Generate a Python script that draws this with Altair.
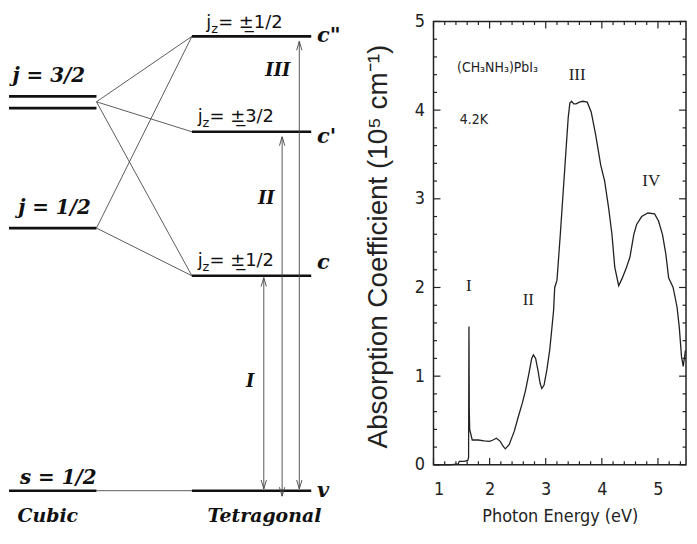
import altair as alt
import pandas as pd

# ---------------- Left: energy-level diagram (arbitrary energy units) ----------------
cubic_names = ["j = 3/2", "j = 3/2", "j = 1/2", "s = 1/2"]
cubic_E = [8.68, 8.42, 5.78, 0.0]

tetra_names = ['c"', "c'", "c", "v"]
tetra_E = [10.0, 7.90, 4.73, 0.0]

# connections cubic -> tetragonal (from energy, to energy)
conn_from = [8.56, 8.56, 8.56, 5.78, 5.78, 0.0]
conn_to = [10.0, 7.90, 4.73, 10.0, 4.73, 0.0]

# transition arrows
arrow_names = ["I", "II", "III"]
arrow_x = [2.753, 2.945, 3.125]
arrow_bottom = [0.04, -0.12, 0.04]
arrow_top = [4.69, 7.79, 9.89]

# labels
cubic_lab = ["j = 3/2", "j = 1/2", "s = 1/2"]
cubic_lab_x = [0.50, 0.56, 0.60]
cubic_lab_E = [8.99, 6.08, 0.14]

tetra_lab_x = [3.31, 3.31, 3.31, 3.31]
tetra_lab_E = [10.0, 7.79, 5.01, 0.0]

roman_left = ["III", "II", "I"]
roman_left_x = [2.90, 2.78, 2.61]
roman_left_E = [9.23, 6.43, 2.39]

jz_text = ["= \u00b1\u03321/2", "= \u00b1\u03323/2", "= \u00b1\u03321/2"]
jz_x = [2.15, 2.06, 2.06]
jz_E = [10.18, 8.12, 4.95]

bottom_lab = ["Cubic", "Tetragonal"]
bottom_x = [0.49, 2.76]
bottom_E = [-0.70, -0.70]

SERIF = "DejaVu Serif"
SANS = "Liberation Sans"

LW, LH = 340, 518
xs_left = alt.Scale(domain=[8 / 96, 348 / 96], nice=False, zero=False)
ys_left = alt.Scale(domain=[-0.766, 10.569], nice=False, zero=False)

def X(f):
    return alt.X(f, type="quantitative", scale=xs_left, axis=None)

def Y(f):
    return alt.Y(f, type="quantitative", scale=ys_left, axis=None)

cub_df = pd.DataFrame({"E": cubic_E, "x0": 0.0, "x1": 1.0})
tet_df = pd.DataFrame({"E": tetra_E, "x0": 2.0, "x1": 3.25})
conn_df = pd.DataFrame({"e0": conn_from, "e1": conn_to, "x0": 1.0, "x1": 2.0})
arr_df = pd.DataFrame({"x": arrow_x, "b": arrow_bottom, "t": arrow_top})

levels_c = alt.Chart(cub_df).mark_rule(color="#111", strokeWidth=2.6, clip=True).encode(
    x=X("x0"), x2="x1", y=Y("E"))
levels_t = alt.Chart(tet_df).mark_rule(color="#111", strokeWidth=2.6).encode(
    x=X("x0"), x2="x1", y=Y("E"))
conns = alt.Chart(conn_df).mark_rule(color="#333", strokeWidth=0.8).encode(
    x=X("x0"), x2="x1", y=Y("e0"), y2="e1")
shafts = alt.Chart(arr_df).mark_rule(color="#444", strokeWidth=0.9).encode(
    x=X("x"), y=Y("b"), y2="t")
head_up = alt.Chart(arr_df).mark_point(
    shape="M-0.3,1L0,0L0.3,1", filled=False, color="#444", strokeWidth=0.9, size=320, opacity=1
).encode(x=X("x"), y=Y("t"))
head_dn = alt.Chart(arr_df).mark_point(
    shape="M-0.3,-1L0,0L0.3,-1", filled=False, color="#444", strokeWidth=0.9, size=320, opacity=1
).encode(x=X("x"), y=Y("b"))

cl_df = pd.DataFrame({"t": cubic_lab, "x": cubic_lab_x, "E": cubic_lab_E})
cub_text = alt.Chart(cl_df).mark_text(
    font=SERIF, fontStyle="italic", fontWeight="bold", fontSize=20, align="center", baseline="alphabetic", color="#111"
).encode(x=X("x"), y=Y("E"), text="t:N")

tl_df = pd.DataFrame({"t": tetra_names, "x": tetra_lab_x, "E": tetra_lab_E})
tet_text = alt.Chart(tl_df).mark_text(
    font=SERIF, fontStyle="italic", fontWeight="bold", fontSize=21, align="left", baseline="middle", color="#111"
).encode(x=X("x"), y=Y("E"), text="t:N")

rl_df = pd.DataFrame({"t": roman_left, "x": roman_left_x, "E": roman_left_E})
rom_text = alt.Chart(rl_df).mark_text(
    font=SERIF, fontStyle="italic", fontWeight="bold", fontSize=18, align="center", baseline="middle", color="#111"
).encode(x=X("x"), y=Y("E"), text="t:N")

JZF = "DejaVu Sans"
jz_df = pd.DataFrame({"t": jz_text, "x": jz_x, "E": jz_E, "j": "j", "z": "z"})
jz_j = alt.Chart(jz_df).mark_text(
    font=JZF, fontSize=18, align="left", baseline="alphabetic", color="#111"
).encode(x=X("x"), y=Y("E"), text="j:N")
jz_z = alt.Chart(jz_df).mark_text(
    font=JZF, fontSize=13, align="left", baseline="alphabetic", color="#111", dx=5, dy=5
).encode(x=X("x"), y=Y("E"), text="z:N")
jz_rest = alt.Chart(jz_df).mark_text(
    font=JZF, fontSize=18, align="left", baseline="alphabetic", color="#111", dx=12
).encode(x=X("x"), y=Y("E"), text="t:N")

bl_df = pd.DataFrame({"t": bottom_lab, "x": bottom_x, "E": bottom_E})
bot_text = alt.Chart(bl_df).mark_text(
    font=SERIF, fontStyle="italic", fontWeight="bold", fontSize=19, align="center", baseline="alphabetic", color="#111"
).encode(x=X("x"), y=Y("E"), text="t:N")

left = alt.layer(
    levels_c, levels_t, conns, shafts, head_up, head_dn,
    cub_text, tet_text, rom_text, jz_j, jz_z, jz_rest, bot_text
).properties(width=LW, height=LH)

# ---------------- Right: absorption spectrum ----------------
energy = [1.00, 1.30, 1.44, 1.46, 1.55, 1.61, 1.625, 1.632, 1.638, 1.645, 1.66, 1.69, 1.80, 1.90,
          2.00, 2.06, 2.12, 2.19, 2.24, 2.28, 2.35, 2.44, 2.51, 2.58, 2.64, 2.70, 2.75, 2.78,
          2.82, 2.86, 2.90, 2.93, 2.97, 3.02, 3.07, 3.10, 3.14, 3.16, 3.20, 3.26, 3.34, 3.40,
          3.43, 3.46, 3.50, 3.54, 3.60, 3.66, 3.74, 3.81, 3.89, 3.98, 4.05, 4.12, 4.18, 4.23,
          4.30, 4.36, 4.43, 4.50, 4.57, 4.62, 4.71, 4.82, 4.94, 5.01, 5.08, 5.14, 5.19, 5.27,
          5.34, 5.38, 5.42, 5.45, 5.49]
alpha = [0.00, 0.00, 0.01, 0.04, 0.04, 0.05, 0.08, 1.56, 0.60, 0.40, 0.36, 0.28, 0.28, 0.27,
         0.265, 0.28, 0.30, 0.265, 0.21, 0.18, 0.23, 0.38, 0.54, 0.69, 0.84, 1.03, 1.20, 1.24,
         1.20, 1.07, 0.92, 0.86, 0.90, 1.07, 1.29, 1.48, 1.74, 2.00, 2.08, 2.60, 3.35, 3.91,
         4.08, 4.10, 4.07, 4.07, 4.09, 4.10, 4.09, 3.98, 3.72, 3.38, 3.20, 2.90, 2.60, 2.23,
         2.02, 2.10, 2.21, 2.34, 2.60, 2.71, 2.80, 2.84, 2.83, 2.75, 2.60, 2.38, 2.11, 2.00,
         1.78, 1.55, 1.22, 1.11, 1.29]

peak_labels = ["I", "II", "III", "IV"]
peak_x = [1.63, 2.69, 3.56, 4.88]
peak_y = [2.02, 1.86, 4.40, 3.20]

note_text = ["(CH\u2083NH\u2083)PbI\u2083", "4.2K"]
note_x = [1.42, 1.47]
note_y = [4.48, 3.89]

X_MIN, X_MAX = 1.0, 5.5
Y_MIN, Y_MAX = 0.0, 5.0
x_major = [1, 2, 3, 4, 5]
y_major = [0, 1, 2, 3, 4, 5]
x_minor = [round(1 + 0.2 * i, 2) for i in range(1, 23) if abs((1 + 0.2 * i) - round(1 + 0.2 * i)) > 1e-6]
y_minor = [round(0.2 * i, 2) for i in range(1, 25) if abs(0.2 * i - round(0.2 * i)) > 1e-6]

NARROW = "Liberation Sans Narrow, DejaVu Sans Condensed, Roboto Condensed, Liberation Sans"
RW, RH = 254, 457
Y_TOP = 5.1232          # view extends a little above the frame
TOP_PX = RH * (1 - Y_MAX / Y_TOP)
xs = alt.Scale(domain=[X_MIN, X_MAX], nice=False, zero=False)
ys = alt.Scale(domain=[Y_MIN, Y_TOP], nice=False, zero=False)

x_axis = alt.Axis(values=x_major, format="d", ticks=False, domain=False, grid=False,
                  labelFont=NARROW, labelFontSize=18, labelPadding=16, labelColor="#222",
                  title="Photon Energy (eV)", titleFont=NARROW, titleFontSize=18,
                  titleFontWeight="normal", titleColor="#222", titlePadding=9)
y_axis = alt.Axis(values=y_major, format="d", ticks=False, domain=False, grid=False,
                  labelFont=NARROW, labelFontSize=18, labelPadding=9, labelColor="#222",
                  title="Absorption Coefficient (10\u2075 cm\u207b\u00b9)", titleFont=SANS,
                  titleFontSize=28, titleFontWeight="normal", titleColor="#222", titlePadding=22,
                  titleY=237)

spec_df = pd.DataFrame({"energy": energy, "alpha": alpha})
curve = alt.Chart(spec_df).mark_line(color="#222", strokeWidth=1.3).encode(
    x=alt.X("energy:Q", scale=xs, axis=x_axis),
    y=alt.Y("alpha:Q", scale=ys, axis=y_axis),
)

frame_df = pd.DataFrame({"energy": [X_MIN], "energy2": [X_MAX], "alpha": [Y_MIN], "alpha2": [Y_MAX]})
frame = alt.Chart(frame_df).mark_rect(fillOpacity=0, stroke="#222", strokeWidth=1.5).encode(
    x=alt.X("energy:Q", scale=xs), x2="energy2", y=alt.Y("alpha:Q", scale=ys), y2="alpha2")

tick_layers = []
for vals, ln in ((x_major, 7), (x_minor, 3.5)):
    d = pd.DataFrame({"energy": vals})
    tick_layers.append(alt.Chart(d).mark_rule(color="#222", strokeWidth=1.2).encode(
        x=alt.X("energy:Q", scale=xs), y=alt.value(RH), y2=alt.value(RH - ln)))
    tick_layers.append(alt.Chart(d).mark_rule(color="#222", strokeWidth=1.2).encode(
        x=alt.X("energy:Q", scale=xs), y=alt.value(TOP_PX), y2=alt.value(TOP_PX + ln)))
for vals, ln in ((y_major, 7), (y_minor, 3.5)):
    d = pd.DataFrame({"alpha": vals})
    tick_layers.append(alt.Chart(d).mark_rule(color="#222", strokeWidth=1.2).encode(
        y=alt.Y("alpha:Q", scale=ys), x=alt.value(0), x2=alt.value(ln)))
    tick_layers.append(alt.Chart(d).mark_rule(color="#222", strokeWidth=1.2).encode(
        y=alt.Y("alpha:Q", scale=ys), x=alt.value(RW), x2=alt.value(RW - ln)))

pk_df = pd.DataFrame({"t": peak_labels, "energy": peak_x, "alpha": peak_y})
pk_text = alt.Chart(pk_df).mark_text(
    font="Liberation Serif", fontSize=17, align="center", baseline="middle", color="#222"
).encode(x=alt.X("energy:Q", scale=xs), y=alt.Y("alpha:Q", scale=ys), text="t:N")

nt_df = pd.DataFrame({"t": note_text, "energy": note_x, "alpha": note_y})
nt_text = alt.Chart(nt_df).mark_text(
    font=NARROW, fontSize=14, align="left", baseline="middle", color="#222"
).encode(x=alt.X("energy:Q", scale=xs), y=alt.Y("alpha:Q", scale=ys), text="t:N")

right = alt.layer(curve, frame, *tick_layers, pk_text, nt_text).properties(
    width=RW, height=RH,
)

chart = alt.hconcat(left, right, spacing=16).properties(padding=0).configure_view(
    stroke="transparent"
).configure_concat(spacing=16)

chart.save("out.html", embed_options={"renderer": "svg", "actions": False})
